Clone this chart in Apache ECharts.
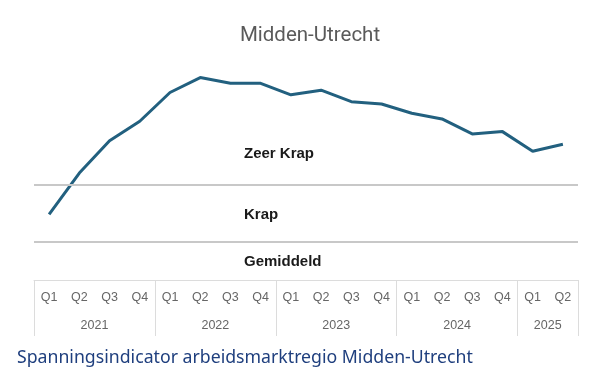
<!DOCTYPE html>
<html>
<head>
<meta charset="utf-8">
<script src="https://cdn.jsdelivr.net/npm/echarts@6/dist/echarts.min.js"></script>
<style>
html,body{margin:0;padding:0;background:#fff;}
#chart{width:600px;height:387px;}
</style>
</head>
<body>
<div id="chart"></div>
<script>
// ---- data ----
const quarters = ['Q1','Q2','Q3','Q4','Q1','Q2','Q3','Q4','Q1','Q2','Q3','Q4','Q1','Q2','Q3','Q4','Q1','Q2'];
const years = ['2021','2022','2023','2024','2025'];
const quartersPerYear = [4,4,4,4,2];
const indicatorValues = [1.24,1.60,1.88,2.05,2.30,2.43,2.38,2.38,2.28,2.32,2.22,2.20,2.12,2.07,1.94,1.96,1.79,1.85];
const zoneBoundaries = [1.0, 1.5];
const zoneNames = ['Zeer Krap','Krap','Gemiddeld'];
const zoneLabelValues = [1.765, 1.235, 0.825];

// derived year boundaries and centres
const yearBounds = [0];
const yearCenters = [];
let acc = 0;
quartersPerYear.forEach(n => { yearCenters.push(acc + n/2); acc += n; yearBounds.push(acc); });

const chart = echarts.init(document.getElementById('chart'));
const option = {
  animation: false,
  title: [{
    text: 'Midden-Utrecht',
    left: 308, top: 20, textAlign: 'center',
    textStyle: {fontFamily: 'Roboto', fontWeight: 'normal', fontSize: 20.5, color: '#5a5a5a'}
  },{
    text: 'Spanningsindicator arbeidsmarktregio Midden-Utrecht',
    left: 12, top: 344,
    textStyle: {fontFamily: 'Noto Sans', fontWeight: 'normal', fontSize: 17.7, color: '#1f3f7e'}
  }],
  grid: {left: 34, right: 22, top: 58, bottom: 107},
  xAxis: [{
    type: 'category',
    data: quarters,
    boundaryGap: true,
    position: 'bottom',
    axisLine: {show: true, lineStyle: {color: '#dcdcdc', width: 1}},
    axisTick: {show: false},
    axisLabel: {margin: 11, fontFamily: 'Liberation Sans', fontSize: 12.5, color: '#666'},
    splitLine: {show: false}
  },{
    type: 'value',
    min: 0, max: quarters.length,
    position: 'bottom',
    axisLine: {show: false},
    splitLine: {show: false},
    axisTick: {show: true, inside: false, length: 56, customValues: yearBounds,
               lineStyle: {color: '#dcdcdc', width: 1}},
    axisLabel: {show: true, margin: 39, customValues: yearCenters,
                fontFamily: 'Liberation Sans', fontSize: 12.5, color: '#666',
                formatter: v => { const i = yearCenters.indexOf(v); return i >= 0 ? years[i] : ''; }}
  }],
  yAxis: {
    type: 'value', min: 0.67, max: 2.6,
    show: false, splitLine: {show: false}
  },
  series: [{
    type: 'line',
    data: indicatorValues,
    xAxisIndex: 0,
    symbol: 'none',
    lineStyle: {color: '#22607f', width: 3},
    markLine: {
      silent: true, symbol: 'none',
      label: {show: false},
      lineStyle: {color: '#c8c8c8', width: 2, type: 'solid'},
      data: zoneBoundaries.map(v => ({yAxis: v}))
    }
  }]
};
chart.setOption(option);

// zone labels positioned from y-axis values
const gLabels = zoneNames.map((name, i) => ({
  type: 'text',
  left: 244,
  top: chart.convertToPixel({yAxisIndex: 0}, zoneLabelValues[i]) - 8,
  style: {text: name, fontFamily: 'Liberation Sans', fontWeight: 'bold', fontSize: 15, fill: '#1a1a1a'}
}));
chart.setOption({graphic: gLabels});
chart.setOption({title: [{left: 305}]});
</script>
</body>
</html>
